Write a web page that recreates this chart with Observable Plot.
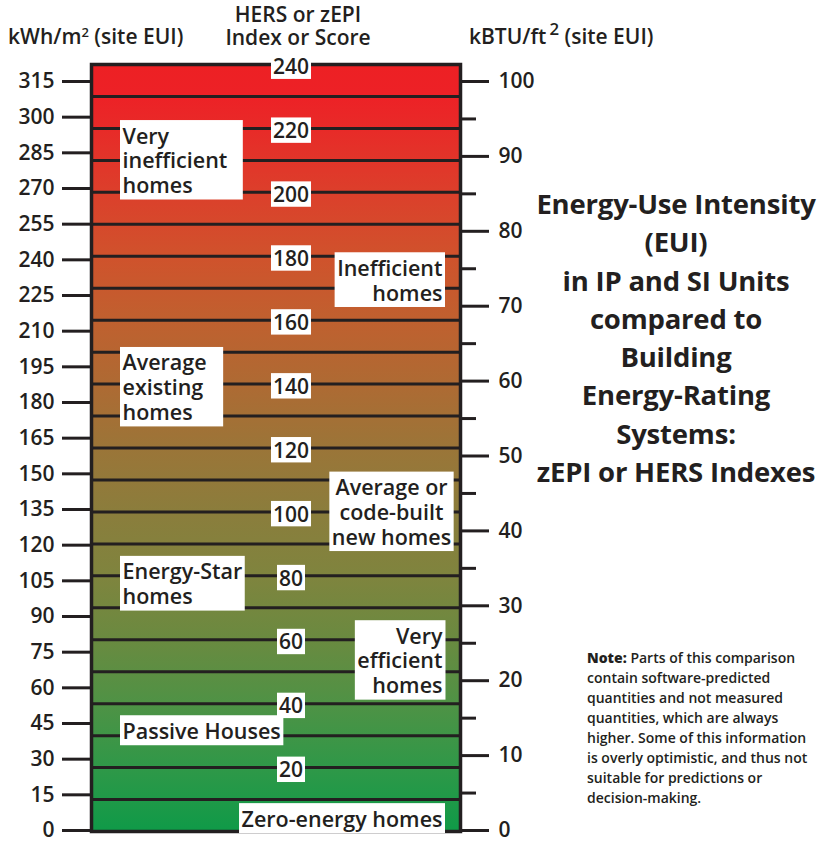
<!DOCTYPE html>
<html>
<head>
<meta charset="utf-8">
<script src="https://cdn.jsdelivr.net/npm/d3@7"></script>
<script src="https://cdn.jsdelivr.net/npm/@observablehq/plot@0.6"></script>
<style>
  html, body { margin: 0; padding: 0; background: #fff; }
  #wrap { position: relative; width: 817px; height: 842px; overflow: hidden; background: #fff;
          font-family: "Open Sans", sans-serif; color: #231f20; }
  #wrap svg { position: absolute; left: 0; top: 0; }
  .hdr { position: absolute; font-size: 21px; font-weight: 600; line-height: 23px; white-space: nowrap; }
  .hdr sup { font-size: 0.62em; vertical-align: 0.55em; line-height: 0; }
  #title { position: absolute; left: 526px; width: 300px; top: 185px; text-align: center;
           font-size: 27.5px; font-weight: 700; line-height: 38.3px; white-space: nowrap; letter-spacing: -0.2px; }
  #note { position: absolute; left: 587px; top: 648px; font-size: 14px; font-weight: 600;
          line-height: 20px; white-space: nowrap; }
  #note b { font-weight: 800; }
</style>
</head>
<body>
<div id="wrap">
  <div class="hdr" style="left:8px; top:25px;">kWh/m<sup>2</sup> (site EUI)</div>
  <div class="hdr" style="left:198px; width:200px; top:3px; text-align:center;">HERS or zEPI<br>Index or Score</div>
  <div class="hdr" style="left:469px; top:25px;">kBTU/ft<sup style="font-size:0.8em;margin-left:3px;">2</sup> (site EUI)</div>
  <div id="title">Energy-Use Intensity<br>(EUI)<br>in IP and SI Units<br>compared to<br>Building<br>Energy-Rating<br>Systems:<br>zEPI or HERS Indexes</div>
  <div id="note"><b>Note:</b> Parts of this comparison<br>contain software-predicted<br>quantities and not measured<br>quantities, which are always<br>higher. Some of this information<br>is overly optimistic, and thus not<br>suitable for predictions or<br>decision-making.</div>
</div>
<script>
// ---------- data ----------
const kwhTicks = [0, 15, 30, 45, 60, 75, 90, 105, 120, 135, 150, 165, 180, 195, 210, 225, 240, 255, 270, 285, 300, 315];
const kbtuMajor = [0, 10, 20, 30, 40, 50, 60, 70, 80, 90, 100];
const kbtuMinor = [5, 15, 25, 35, 45, 55, 65, 75, 85, 95];
const hersRange = [0, 240];
const hersLines = [10, 20, 30, 40, 50, 60, 70, 80, 90, 100, 110, 120, 130, 140, 150, 160, 170, 180, 190, 200, 210, 220, 230];
const hersLabels = [20, 40, 60, 80, 100, 120, 140, 160, 180, 200, 220, 240];
const leftClasses = [
  {label: "Very\ninefficient\nhomes", hers: 210},
  {label: "Average\nexisting\nhomes", hers: 139},
  {label: "Energy-Star\nhomes", hers: 77.5},
  {label: "Passive Houses", hers: 31.5}
];
const rightClasses = [
  {label: "Inefficient\nhomes", hers: 172.5},
  {label: "Very\nefficient\nhomes", hers: 53.5},
  {label: "Zero-energy homes", hers: 4}
];
const centerClasses = [
  {label: "Average or\ncode-built\nnew homes", hers: 100}
];

// ---------- style ----------
const ink = "#231f20";
const font = "'Open Sans', sans-serif";
const gradientStops = [
  [0.00, "#0f9a48"], [0.083, "#2f9848"], [0.167, "#4f9245"], [0.25, "#6a8a40"],
  [0.333, "#7f843e"], [0.417, "#8b7d3c"], [0.5, "#9b7538"], [0.583, "#ae6a33"],
  [0.667, "#c0602f"], [0.75, "#d0522c"], [0.833, "#dc3f2b"], [0.917, "#e82a28"],
  [0.96, "#ed2126"], [1.0, "#ed2024"]
];
const extraBoxRight = {"Veryinefficienthomes": 13, "Averageexistinghomes": 14};
const W = 817, H = 842;
const common = {width: W, height: H, style: {background: "transparent", fontFamily: font, color: ink}};
const wrap = document.getElementById("wrap");

// left axis: kWh/m2
const leftAxis = Plot.plot({
  ...common,
  marginLeft: 91, marginRight: 300, marginTop: 81, marginBottom: 12,
  y: {domain: [0, 315]},
  marks: [
    Plot.axisY(kwhTicks, {anchor: "left", tickSize: 29, tickPadding: 8, strokeWidth: 3,
      fontSize: 21, fontWeight: 600, label: null, stroke: ink, fill: ink})
  ]
});
// right axis: kBTU/ft2
const rightAxis = Plot.plot({
  ...common,
  marginLeft: 100, marginRight: 357, marginTop: 81, marginBottom: 12,
  y: {domain: [0, 100]},
  marks: [
    Plot.axisY(kbtuMinor, {anchor: "right", tickSize: 15, strokeWidth: 3, tickFormat: () => "", label: null, stroke: ink}),
    Plot.axisY(kbtuMajor, {anchor: "right", tickSize: 28, tickPadding: 10, strokeWidth: 3,
      fontSize: 21, fontWeight: 600, label: null, stroke: ink, fill: ink})
  ]
});

const txt = {fontSize: 21.5, fontWeight: 600, fill: ink, lineHeight: 1.15, lineAnchor: "middle"};
const main = Plot.plot({
  ...common,
  marginLeft: 91, marginRight: 357, marginTop: 64, marginBottom: 11,
  y: {domain: hersRange, axis: null},
  marks: [
    Plot.rect([hersRange], {y1: d => d[0], y2: d => d[1], fill: "url(#euiGrad)"}),
    Plot.ruleY(hersLines, {stroke: ink, strokeWidth: 3}),
    Plot.frame({stroke: ink, strokeWidth: 3.5}),
    Plot.text(hersLabels, {...txt, fontSize: 21, y: d => d, text: d => String(d), frameAnchor: "middle", dx: 15, dy: 2}),
    Plot.text(leftClasses, {...txt, y: "hers", text: "label", frameAnchor: "left", textAnchor: "start", dx: 31}),
    Plot.text(rightClasses, {...txt, y: "hers", text: "label", frameAnchor: "right", textAnchor: "end", dx: -18}),
    Plot.text(centerClasses, {...txt, y: "hers", text: "label", frameAnchor: "right", textAnchor: "middle", dx: -69})
  ]
});

wrap.appendChild(leftAxis);
wrap.appendChild(rightAxis);
wrap.appendChild(main);

// gradient definition
const ns = "http://www.w3.org/2000/svg";
const defs = document.createElementNS(ns, "defs");
const lg = document.createElementNS(ns, "linearGradient");
lg.setAttribute("id", "euiGrad");
lg.setAttribute("x1", "0"); lg.setAttribute("y1", "1");
lg.setAttribute("x2", "0"); lg.setAttribute("y2", "0");
for (const [o, c] of gradientStops) {
  const s = document.createElementNS(ns, "stop");
  s.setAttribute("offset", o);
  s.setAttribute("stop-color", c);
  lg.appendChild(s);
}
defs.appendChild(lg);
main.insertBefore(defs, main.firstChild);

// white boxes behind the labels in the bar
const groups = main.querySelectorAll('g[aria-label="text"]');
groups.forEach((g, gi) => {
  const isNum = gi === 0;
  g.querySelectorAll("text").forEach(t => {
    const b = t.getBBox();
    const padL = isNum ? 2 : 2.5, padR = (isNum ? 2 : 2.5) + (extraBoxRight[t.textContent] || 0);
    const padV = isNum ? -1.3 : 0.5;
    const r = document.createElementNS(ns, "rect");
    r.setAttribute("x", b.x - padL);
    r.setAttribute("y", b.y - padV);
    r.setAttribute("width", b.width + padL + padR);
    r.setAttribute("height", b.height + 2 * padV);
    r.setAttribute("fill", "white");
    r.setAttribute("stroke", "none");
    const tr = t.getAttribute("transform");
    if (tr) r.setAttribute("transform", tr);
    t.parentNode.insertBefore(r, t);
  });
});
</script>
</body>
</html>
